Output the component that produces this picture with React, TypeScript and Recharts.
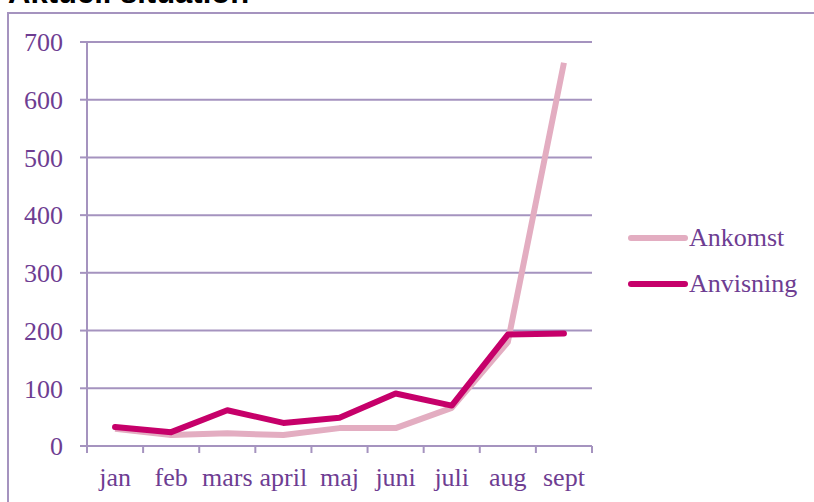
import React from 'react'
import { LineChart, Line, XAxis, YAxis, CartesianGrid, Legend } from 'recharts'

const months = ['jan', 'feb', 'mars', 'april', 'maj', 'juni', 'juli', 'aug', 'sept']
const ankomst = [30, 19, 22, 19, 31, 31, 66, 180, 664]
const anvisning = [33, 24, 62, 40, 49, 91, 70, 193, 195]
const yTicks = [0, 100, 200, 300, 400, 500, 600, 700]

const data = months.map((m, i) => ({ month: m, Ankomst: ankomst[i], Anvisning: anvisning[i] }))

const axisColor = '#A593BF'
const textColor = '#6E3D92'
const ankomstColor = '#E3ADC1'
const anvisningColor = '#C6006A'
const serif = 'Liberation Serif'

function MonthTick(props: any) {
  const { x, y, payload, index } = props
  const off = payload && payload.offset ? payload.offset : 28
  const last = index === months.length - 1
  return (
    <g>
      <line x1={x - off} y1={y} x2={x - off} y2={y + 7} stroke={axisColor} strokeWidth={2} />
      {last && <line x1={x + off} y1={y} x2={x + off} y2={y + 7} stroke={axisColor} strokeWidth={2} />}
      <text x={x} y={y + 40} textAnchor="middle" fill={textColor} fontFamily={serif} fontSize={26}>
        {payload.value}
      </text>
    </g>
  )
}

function LegendBox() {
  const items = [
    { name: 'Ankomst', color: ankomstColor },
    { name: 'Anvisning', color: anvisningColor },
  ]
  return (
    <div>
      {items.map((it) => (
        <div key={it.name} style={{ display: 'flex', alignItems: 'center', height: 46 }}>
          <svg width={60} height={10}>
            <line x1={3} y1={5} x2={57} y2={5} stroke={it.color} strokeWidth={6} strokeLinecap="round" />
          </svg>
          <span style={{ fontFamily: serif, fontSize: 26, color: textColor, marginLeft: 1 }}>{it.name}</span>
        </div>
      ))}
    </div>
  )
}

export default function App() {
  return (
    <div style={{ position: 'absolute', left: 0, top: 0, width: 814, height: 502, overflow: 'hidden', background: '#fff' }}>
      <div
        style={{
          position: 'absolute',
          left: 7,
          top: 12,
          width: 830,
          height: 520,
          border: `2px solid ${axisColor}`,
          boxSizing: 'border-box',
        }}
      />
      <div
        style={{
          position: 'absolute',
          left: 8,
          top: -23,
          fontFamily: 'Liberation Sans, Arial, sans-serif',
          fontWeight: 'bold',
          fontSize: 31,
          lineHeight: 1,
          color: '#000',
          whiteSpace: 'nowrap',
        }}
      >
        Aktuell situation
      </div>
      <div style={{ position: 'absolute', left: 0, top: 0 }}>
        <LineChart width={814} height={502} data={data} margin={{ top: 42, right: 222, bottom: 0, left: 0 }}>
          <CartesianGrid vertical={false} stroke={axisColor} strokeWidth={2} />
          <XAxis
            dataKey="month"
            scale="band"
            height={56}
            tickLine={false}
            tickSize={0}
            tickMargin={0}
            axisLine={{ stroke: axisColor, strokeWidth: 2 }}
            tick={<MonthTick />}
            interval={0}
          />
          <YAxis
            width={87}
            domain={[0, 700]}
            ticks={yTicks}
            tickSize={7}
            tickMargin={17}
            axisLine={{ stroke: axisColor, strokeWidth: 2 }}
            tickLine={{ stroke: axisColor, strokeWidth: 2 }}
            tick={{ fill: textColor, fontSize: 26, fontFamily: serif }}
          />
          <Legend
            layout="vertical"
            align="center"
            verticalAlign="middle"
            content={<LegendBox />}
            wrapperStyle={{ left: 628, top: 215, width: 186 }}
          />
          <Line
            type="linear"
            dataKey="Ankomst"
            stroke={ankomstColor}
            strokeWidth={6}
            strokeLinejoin="round"
            dot={false}
            activeDot={false}
            isAnimationActive={false}
          />
          <Line
            type="linear"
            dataKey="Anvisning"
            stroke={anvisningColor}
            strokeWidth={6}
            strokeLinejoin="round"
            strokeLinecap="round"
            dot={false}
            activeDot={false}
            isAnimationActive={false}
          />
        </LineChart>
      </div>
    </div>
  )
}
